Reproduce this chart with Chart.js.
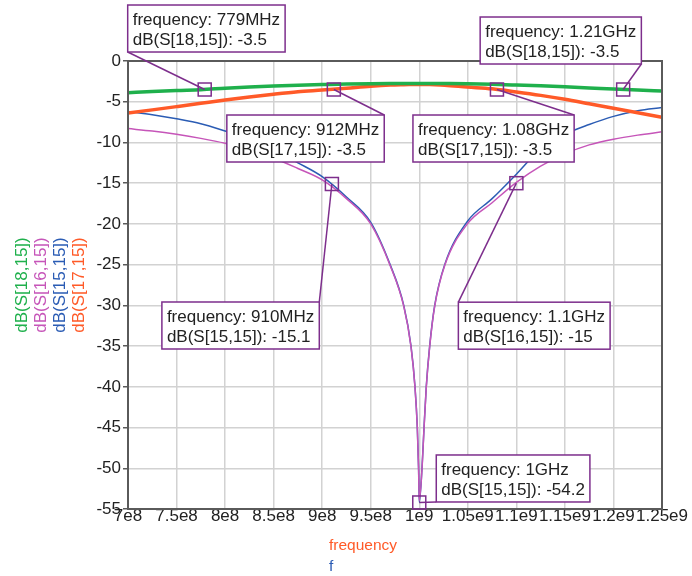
<!DOCTYPE html>
<html>
<head>
<meta charset="utf-8">
<script src="https://cdn.jsdelivr.net/npm/chart.js@4"></script>
<style>
  html, body { margin: 0; padding: 0; background: #fff; }
</style>
</head>
<body>
<canvas id="chart" width="692" height="576"></canvas>
<script>
// frequency sweep (Hz), shared by all traces
const freq = [7.00e8, 7.25e8, 7.50e8, 7.75e8, 8.00e8, 8.25e8, 8.50e8, 8.75e8, 9.00e8, 9.25e8,
              9.50e8, 9.70e8, 9.84e8, 9.915e8, 9.956e8, 9.98e8, 9.993e8, 1.0e9, 1.0028e9, 1.0049e9,
              1.0072e9, 1.0107e9, 1.0159e9, 1.0262e9, 1.0495e9, 1.075e9, 1.10e9, 1.125e9, 1.15e9, 1.175e9,
              1.20e9, 1.225e9, 1.25e9];

// dB(S[18,15]) - green
const s18 = [-3.9, -3.75, -3.62, -3.52, -3.35, -3.2, -3.07, -2.97, -2.9, -2.83,
             -2.79, -2.77, -2.76, -2.75, -2.75, -2.75, -2.75, -2.75, -2.75, -2.75,
             -2.75, -2.75, -2.76, -2.77, -2.8, -2.86, -2.95, -3.05, -3.17, -3.3,
             -3.45, -3.57, -3.67];

// dB(S[17,15]) - orange
const s17 = [-6.4, -6.0, -5.6, -5.2, -4.8, -4.42, -4.08, -3.78, -3.57, -3.34,
             -3.1, -2.96, -2.91, -2.89, -2.88, -2.88, -2.88, -2.88, -2.88, -2.89,
             -2.89, -2.9, -2.92, -2.98, -3.2, -3.42, -3.8, -4.22, -4.7, -5.25,
             -5.8, -6.35, -6.9];

// dB(S[15,15]) - blue
const s15 = [-6.2, -6.6, -7.1, -7.7, -8.6, -9.6, -10.9, -12.5, -14.2, -16.7,
             -19.8, -25.0, -30.0, -35.0, -40.0, -45.0, -50.0, -54.2, -50.0, -45.0,
             -40.0, -35.0, -30.0, -25.0, -19.7, -16.9, -13.9, -10.8, -9.0, -7.8,
             -6.8, -6.1, -5.7];

// dB(S[16,15]) - pink
const s16 = [-8.3, -8.6, -9.0, -9.5, -10.1, -10.9, -11.9, -13.2, -14.6, -16.9,
             -20.0, -25.1, -30.1, -35.1, -40.1, -45.1, -50.1, -54.0, -50.1, -45.1,
             -40.1, -35.1, -30.1, -25.1, -20.0, -17.4, -14.9, -12.9, -11.4, -10.3,
             -9.6, -9.1, -8.7];

const xTickLabels = ['7e8', '7.5e8', '8e8', '8.5e8', '9e8', '9.5e8', '1e9',
                     '1.05e9', '1.1e9', '1.15e9', '1.2e9', '1.25e9'];

// marker readouts
const markerFreq = [7.79e8, 1.21e9, 9.12e8, 1.08e9, 9.10e8, 1.10e9, 1.00e9];
const markerDb = [-3.5, -3.5, -3.5, -3.5, -15.1, -15, -54.2];
const markerFreqText = ['779MHz', '1.21GHz', '912MHz', '1.08GHz', '910MHz', '1.1GHz', '1GHz'];
const markerTrace = ['S[18,15]', 'S[18,15]', 'S[17,15]', 'S[17,15]', 'S[15,15]', 'S[16,15]', 'S[15,15]'];

const FONT = '"Liberation Sans", Arial, sans-serif';
const PURPLE = '#7d2e8c';

// where each readout box sits relative to its marker, and which corner the leader starts from
const boxLayout = [
  { dx: -77, dy: -84.5, corner: 'bl' },
  { dx: -143, dy: -72.5, corner: 'br' },
  { dx: -107, dy: 25.5, corner: 'tr' },
  { dx: -84, dy: 25.5, corner: 'tr' },
  { dx: -170, dy: 118, corner: 'tr' },
  { dx: -58, dy: 119, corner: 'tl' },
  { dx: 17, dy: -47.5, corner: 'bl' }
];

function pts(vals) {
  return freq.map((f, i) => ({ x: f, y: vals[i] }));
}

const extras = {
  id: 'extras',
  afterDraw(chart) {
    const { ctx, chartArea: a, scales: { x, y } } = chart;
    ctx.save();

    // plot frame
    ctx.strokeStyle = '#5a5a5a';
    ctx.lineWidth = 2;
    ctx.strokeRect(a.left, a.top, a.right - a.left, a.bottom - a.top);

    // x axis titles
    ctx.font = '15.5px ' + FONT;
    ctx.textAlign = 'left';
    ctx.textBaseline = 'alphabetic';
    ctx.fillStyle = '#ff5a28';
    ctx.fillText('frequency', 329, 549.5);
    ctx.fillStyle = '#2b5cb4';
    ctx.fillText('f', 329, 571);

    // y axis titles, one per trace
    const yTitles = [['dB(S[18,15])', '#1fb04c'], ['dB(S[16,15])', '#c655b9'],
                     ['dB(S[15,15])', '#2b5cb4'], ['dB(S[17,15])', '#ff5a28']];
    const yTitleX = [27, 45.5, 64.5, 84];
    ctx.font = '17px ' + FONT;
    ctx.textAlign = 'center';
    yTitles.forEach(([t, c], i) => {
      ctx.save();
      ctx.translate(yTitleX[i], (a.top + a.bottom) / 2);
      ctx.rotate(-Math.PI / 2);
      ctx.fillStyle = c;
      ctx.fillText(t, 0, 0);
      ctx.restore();
    });

    // marker readouts
    ctx.font = '17px ' + FONT;
    ctx.textAlign = 'left';
    markerFreq.forEach((f, i) => {
      const mx = x.getPixelForValue(f);
      const my = y.getPixelForValue(markerDb[i]);
      const l1 = 'frequency: ' + markerFreqText[i];
      const l2 = 'dB(' + markerTrace[i] + '): ' + markerDb[i];
      const w = Math.max(ctx.measureText(l1).width, ctx.measureText(l2).width) + 10;
      const h = 47;
      const L = boxLayout[i];
      const bx = mx + L.dx, by = my + L.dy;
      const cx = L.corner.includes('r') ? bx + w : bx;
      const cy = L.corner.includes('b') ? by + h : by;

      ctx.strokeStyle = PURPLE;
      ctx.lineWidth = 1.5;
      ctx.beginPath();
      ctx.moveTo(cx, cy);
      ctx.lineTo(mx, my);
      ctx.stroke();

      ctx.fillStyle = '#fff';
      ctx.fillRect(bx, by, w, h);
      ctx.strokeRect(bx, by, w, h);

      ctx.strokeRect(mx - 6.5, my - 6.5, 13, 13);

      ctx.fillStyle = '#222';
      ctx.fillText(l1, bx + 5, by + 20);
      ctx.fillText(l2, bx + 5, by + 40);
    });

    ctx.restore();
  }
};

new Chart(document.getElementById('chart'), {
  type: 'line',
  data: {
    datasets: [
      { label: 'dB(S[18,15])', data: pts(s18), borderColor: '#1fb04c', borderWidth: 3.5 },
      { label: 'dB(S[17,15])', data: pts(s17), borderColor: '#ff5a28', borderWidth: 3.5 },
      { label: 'dB(S[16,15])', data: pts(s16), borderColor: '#c655b9', borderWidth: 1.5 },
      { label: 'dB(S[15,15])', data: pts(s15), borderColor: '#2b5cb4', borderWidth: 1.5 }
    ]
  },
  options: {
    responsive: false,
    animation: false,
    devicePixelRatio: 1,
    layout: { padding: { left: 0, top: 61, right: 30, bottom: 0 } },
    elements: {
      point: { radius: 0 },
      line: { cubicInterpolationMode: 'monotone', fill: false }
    },
    plugins: { legend: { display: false }, tooltip: { enabled: false } },
    scales: {
      x: {
        type: 'linear',
        min: 7e8,
        max: 1.25e9,
        afterFit: s => { s.height = 67; },
        grid: { color: '#d2d2d2', lineWidth: 1.5, drawTicks: false },
        border: { color: '#5a5a5a', width: 2 },
        ticks: {
          stepSize: 5e7,
          autoSkip: false,
          maxRotation: 0,
          minRotation: 0,
          padding: -1,
          color: '#222',
          font: { family: FONT, size: 17, lineHeight: 1 },
          callback: (v, i) => xTickLabels[i] ?? ''
        }
      },
      y: {
        min: -55,
        max: 0,
        afterFit: s => { s.width = 128; },
        grid: { color: '#d2d2d2', lineWidth: 1.5, tickLength: 5, tickColor: '#5a5a5a' },
        border: { color: '#5a5a5a', width: 2 },
        ticks: {
          stepSize: 5,
          padding: 2,
          color: '#222',
          font: { family: FONT, size: 17 }
        }
      }
    }
  },
  plugins: [extras]
});
</script>
</body>
</html>
